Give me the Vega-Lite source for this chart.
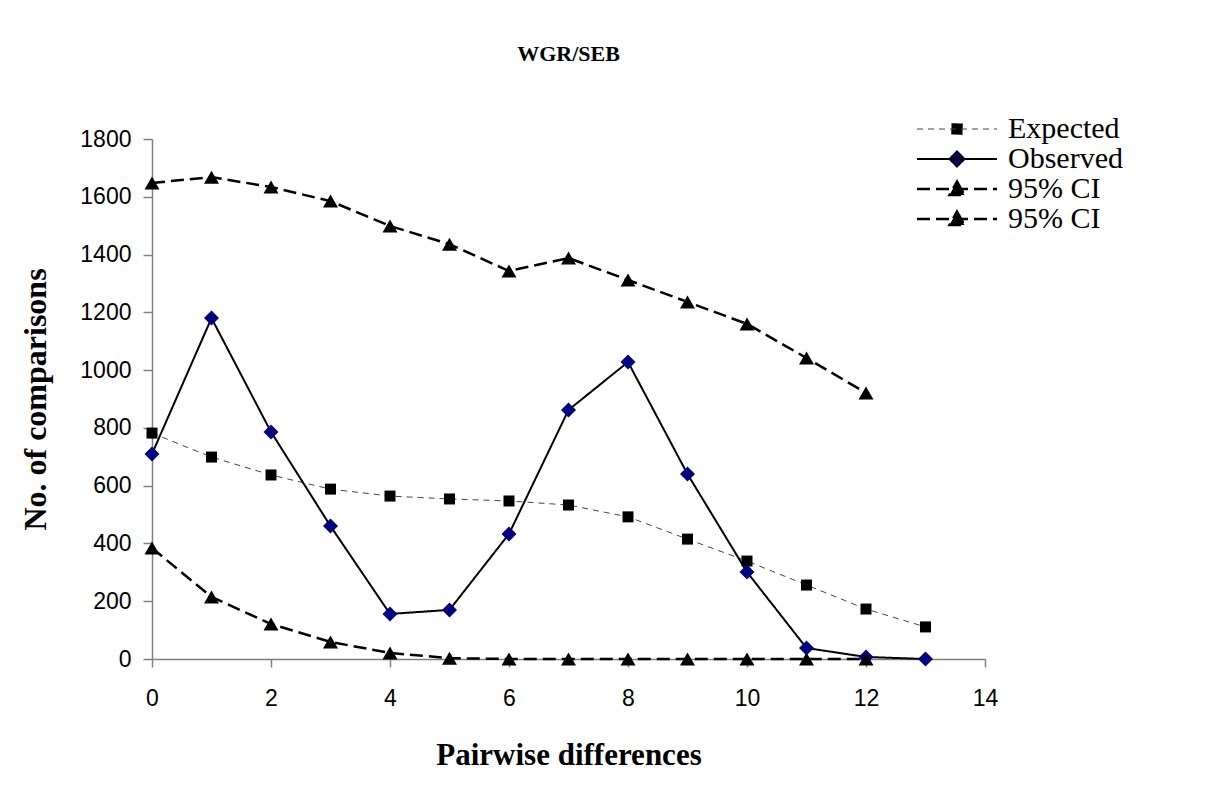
{
  "$schema": "https://vega.github.io/schema/vega-lite/v6.json",
  "width": 833,
  "height": 520,
  "autosize": "none",
  "padding": {"left": 152, "top": 139, "right": 233, "bottom": 127},
  "background": "white",
  "config": {"view": {"stroke": null}},
  "title": {"text": "WGR/SEB", "font": "Liberation Serif", "fontSize": 22, "fontWeight": "bold", "color": "black", "anchor": "middle", "offset": 48},
  "data": {"values": [
    {"x": 0, "y": 782, "series": "Expected"},
    {"x": 1, "y": 699, "series": "Expected"},
    {"x": 2, "y": 637, "series": "Expected"},
    {"x": 3, "y": 588, "series": "Expected"},
    {"x": 4, "y": 564, "series": "Expected"},
    {"x": 5, "y": 554, "series": "Expected"},
    {"x": 6, "y": 547, "series": "Expected"},
    {"x": 7, "y": 533, "series": "Expected"},
    {"x": 8, "y": 492, "series": "Expected"},
    {"x": 9, "y": 415, "series": "Expected"},
    {"x": 10, "y": 339, "series": "Expected"},
    {"x": 11, "y": 256, "series": "Expected"},
    {"x": 12, "y": 173, "series": "Expected"},
    {"x": 13, "y": 111, "series": "Expected"},
    {"x": 0, "y": 710, "series": "Observed"},
    {"x": 1, "y": 1180, "series": "Observed"},
    {"x": 2, "y": 786, "series": "Observed"},
    {"x": 3, "y": 460, "series": "Observed"},
    {"x": 4, "y": 156, "series": "Observed"},
    {"x": 5, "y": 170, "series": "Observed"},
    {"x": 6, "y": 433, "series": "Observed"},
    {"x": 7, "y": 862, "series": "Observed"},
    {"x": 8, "y": 1028, "series": "Observed"},
    {"x": 9, "y": 640, "series": "Observed"},
    {"x": 10, "y": 301, "series": "Observed"},
    {"x": 11, "y": 38, "series": "Observed"},
    {"x": 12, "y": 7, "series": "Observed"},
    {"x": 13, "y": 0, "series": "Observed"},
    {"x": 0, "y": 1648, "series": "CI upper"},
    {"x": 1, "y": 1668, "series": "CI upper"},
    {"x": 2, "y": 1634, "series": "CI upper"},
    {"x": 3, "y": 1585, "series": "CI upper"},
    {"x": 4, "y": 1499, "series": "CI upper"},
    {"x": 5, "y": 1436, "series": "CI upper"},
    {"x": 6, "y": 1343, "series": "CI upper"},
    {"x": 7, "y": 1388, "series": "CI upper"},
    {"x": 8, "y": 1312, "series": "CI upper"},
    {"x": 9, "y": 1236, "series": "CI upper"},
    {"x": 10, "y": 1160, "series": "CI upper"},
    {"x": 11, "y": 1042, "series": "CI upper"},
    {"x": 12, "y": 921, "series": "CI upper"},
    {"x": 0, "y": 384, "series": "CI lower"},
    {"x": 1, "y": 215, "series": "CI lower"},
    {"x": 2, "y": 121, "series": "CI lower"},
    {"x": 3, "y": 59, "series": "CI lower"},
    {"x": 4, "y": 21, "series": "CI lower"},
    {"x": 5, "y": 3, "series": "CI lower"},
    {"x": 6, "y": 0, "series": "CI lower"},
    {"x": 7, "y": 0, "series": "CI lower"},
    {"x": 8, "y": 0, "series": "CI lower"},
    {"x": 9, "y": 0, "series": "CI lower"},
    {"x": 10, "y": 0, "series": "CI lower"},
    {"x": 11, "y": 0, "series": "CI lower"},
    {"x": 12, "y": 0, "series": "CI lower"}
  ]},
  "encoding": {
    "x": {"field": "x", "type": "quantitative",
      "scale": {"domain": [0, 14], "nice": false, "zero": false},
      "axis": {"values": [0, 2, 4, 6, 8, 10, 12, 14], "grid": false, "title": "Pairwise differences",
        "labelFont": "Liberation Sans", "labelFontSize": 23, "labelColor": "black", "labelPadding": 20, "labelFlush": false,
        "tickSize": 8, "tickColor": "#808080", "tickWidth": 1.5, "domainColor": "#808080", "domainWidth": 1.5,
        "titleFont": "Liberation Serif", "titleFontSize": 31, "titleFontWeight": "bold", "titleColor": "black",
        "titleY": 96, "titleBaseline": "middle"}},
    "y": {"field": "y", "type": "quantitative",
      "scale": {"domain": [0, 1800], "nice": false},
      "axis": {"values": [0, 200, 400, 600, 800, 1000, 1200, 1400, 1600, 1800], "format": "d", "grid": false, "title": "No. of comparisons",
        "labelFont": "Liberation Sans", "labelFontSize": 23, "labelColor": "black", "labelPadding": 12,
        "tickSize": 9, "tickColor": "#808080", "tickWidth": 1.5, "domainColor": "#808080", "domainWidth": 1.5,
        "titleFont": "Liberation Serif", "titleFontSize": 32, "titleFontWeight": "bold", "titleColor": "black",
        "titleX": -117, "titleY": 260, "titleAngle": -90, "titleBaseline": "middle", "titleAlign": "center"}}
  },
  "resolve": {"scale": {"shape": "independent", "fill": "independent", "stroke": "independent", "strokeDash": "independent", "strokeWidth": "independent", "size": "independent"},
              "legend": {"shape": "independent", "fill": "independent", "stroke": "independent", "strokeDash": "independent", "strokeWidth": "independent", "size": "independent"}},
  "layer": [
    {
      "mark": {"type": "line", "clip": false},
      "encoding": {
        "detail": {"field": "series"},
        "order": {"field": "x", "type": "quantitative"},
        "stroke": {"field": "series", "type": "nominal", "legend": null,
          "scale": {"domain": ["Expected", "Observed", "CI upper", "CI lower"], "range": ["#444444", "black", "black", "black"]}},
        "strokeDash": {"field": "series", "type": "nominal", "legend": null,
          "scale": {"domain": ["Expected", "Observed", "CI upper", "CI lower"], "range": [[6, 5], [1, 0], [13, 6], [13, 6]]}},
        "strokeWidth": {"field": "series", "type": "nominal", "legend": null,
          "scale": {"type": "ordinal", "domain": ["Expected", "Observed", "CI upper", "CI lower"], "range": [1, 2, 2.5, 2.5]}}
      }
    },
    {
      "mark": {"type": "point", "filled": true, "opacity": 1, "clip": false},
      "encoding": {
        "shape": {"field": "series", "type": "nominal", "legend": null,
          "scale": {"domain": ["Expected", "Observed", "CI upper", "CI lower"], "range": ["square", "diamond", "triangle-up", "triangle-up"]}},
        "fill": {"field": "series", "type": "nominal", "legend": null,
          "scale": {"domain": ["Expected", "Observed", "CI upper", "CI lower"], "range": ["black", "#000080", "black", "black"]}},
        "size": {"field": "series", "type": "nominal", "legend": null,
          "scale": {"type": "ordinal", "domain": ["Expected", "Observed", "CI upper", "CI lower"], "range": [121, 225, 225, 225]}}
      }
    },
    {
      "transform": [{"filter": "datum.x < 0"}],
      "mark": {"type": "point", "filled": true, "clip": false},
      "encoding": {
        "shape": {"field": "series", "type": "nominal",
          "scale": {"domain": ["Expected", "Observed", "CI upper", "CI lower"],
            "range": ["M-4,0L4,0M-0.55,-0.55H0.55V0.55H-0.55Z", "M-4,0L4,0M0,-0.75L0.75,0L0,0.75L-0.75,0Z", "M-4,0L4,0M0,-0.75L0.75,0.6L-0.75,0.6Z", "M-4,0L4,0M0,-0.75L0.75,0.6L-0.75,0.6Z"]},
          "legend": {
            "orient": "none", "legendX": 790, "legendY": -25, "title": null,
            "labelExpr": "datum.value == 'Expected' || datum.value == 'Observed' ? datum.value : '95% CI'",
            "labelFont": "Liberation Serif", "labelFontSize": 30, "labelColor": "black", "labelOffset": 36,
            "symbolSize": 400, "rowPadding": 0, "symbolOpacity": 1}},
        "fill": {"field": "series", "type": "nominal",
          "scale": {"domain": ["Expected", "Observed", "CI upper", "CI lower"], "range": ["black", "#000080", "black", "black"]}},
        "stroke": {"field": "series", "type": "nominal",
          "scale": {"domain": ["Expected", "Observed", "CI upper", "CI lower"], "range": ["#444444", "black", "black", "black"]}},
        "strokeDash": {"field": "series", "type": "nominal",
          "scale": {"domain": ["Expected", "Observed", "CI upper", "CI lower"], "range": [[6, 5], [1, 0], [13, 6], [13, 6]]}},
        "strokeWidth": {"field": "series", "type": "nominal",
          "scale": {"type": "ordinal", "domain": ["Expected", "Observed", "CI upper", "CI lower"], "range": [1, 2, 2.5, 2.5]}}
      }
    }
  ]
}
